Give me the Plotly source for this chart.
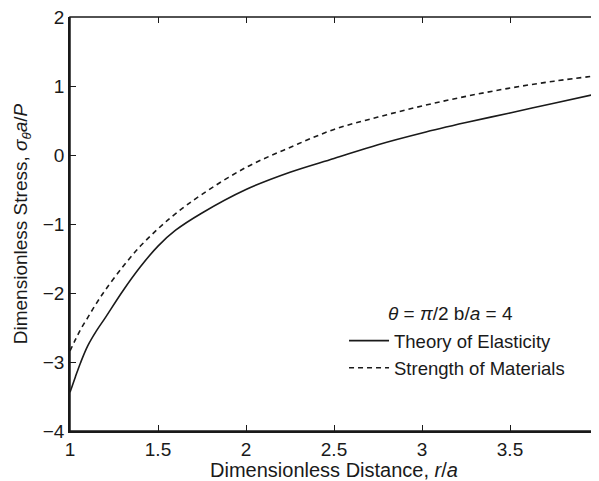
import plotly.graph_objects as go

r_vals = [1.0, 1.03, 1.06, 1.1, 1.15, 1.2, 1.3, 1.4, 1.5, 1.6, 1.75, 2.0, 2.25, 2.5, 2.75, 3.0, 3.25, 3.5, 3.75, 4.0]
elasticity = [-3.44, -3.22, -3.01, -2.77, -2.55, -2.36, -1.97, -1.62, -1.32, -1.09, -0.84, -0.50, -0.25, -0.05, 0.15, 0.32, 0.47, 0.61, 0.75, 0.89]
strength = [-2.84, -2.68, -2.53, -2.36, -2.15, -1.96, -1.62, -1.32, -1.07, -0.85, -0.57, -0.18, 0.11, 0.37, 0.55, 0.71, 0.85, 0.97, 1.07, 1.15]

x_ticks = [1, 1.5, 2, 2.5, 3, 3.5, 4]
x_tick_labels = ["1", "1.5", "2", "2.5", "3", "3.5", "4"]
y_ticks = [-4, -3, -2, -1, 0, 1, 2]
y_tick_labels = ["\u22124", "\u22123", "\u22122", "\u22121", "0", "1", "2"]

FONT = "Liberation Sans, Arial, sans-serif"
INK = "#1a1a1a"
X_RANGE = [1, 4]
Y_RANGE = [-4, 2]

fig = go.Figure()
fig.add_trace(go.Scatter(x=r_vals, y=elasticity, mode="lines", name="Theory of Elasticity",
                         line=dict(color=INK, width=1.6, shape="spline", smoothing=1.0)))
fig.add_trace(go.Scatter(x=r_vals, y=strength, mode="lines", name="Strength of Materials",
                         line=dict(color=INK, width=1.6, dash="5px,4px", shape="spline", smoothing=1.0)))
# invisible carriers so the tick-only overlay axes get drawn
for xa, ya in (("x2", "y2"), ("x3", "y3")):
    fig.add_trace(go.Scatter(x=r_vals, y=strength, xaxis=xa, yaxis=ya, mode="lines",
                             line=dict(width=0), opacity=0, showlegend=False, hoverinfo="skip"))

main_axis = dict(showgrid=False, zeroline=False, showline=True, linecolor=INK, linewidth=1.5,
                 mirror=False, ticks="inside", ticklen=6, tickwidth=1.3, tickcolor=INK,
                 automargin=False, ticklabeloverflow="allow",
                 tickfont=dict(family=FONT, size=19, color=INK))

tick_only = dict(showgrid=False, zeroline=False, showline=False, showticklabels=False,
                 ticks="inside", ticklen=6, tickwidth=1.3, tickcolor=INK, automargin=False)

# plot frame
fig.add_shape(type="rect", xref="paper", yref="paper", x0=0, x1=1, y0=0, y1=1,
              line=dict(color=INK, width=1.5), layer="above")

fig.add_annotation(x=0.72, y=0.285, xref="paper", yref="paper", showarrow=False,
                   xanchor="center", yanchor="middle",
                   text="<i>θ</i> = <i>π</i>/2 b/<i>a</i> = 4",
                   font=dict(family=FONT, size=19, color=INK))

# page body has an 8px margin; the figure is sized so the plot lands where the reference has it
fig.update_layout(
    width=591, height=473,
    margin=dict(l=62, r=1, t=9, b=50),
    paper_bgcolor="white", plot_bgcolor="white",
    xaxis=dict(range=X_RANGE, tickvals=x_ticks, ticktext=x_tick_labels,
               title=dict(text="Dimensionless Distance, <i>r</i>/<i>a</i>", standoff=2,
                          font=dict(family=FONT, size=20, color=INK)),
               **main_axis),
    yaxis=dict(range=Y_RANGE, tickvals=y_ticks, ticktext=y_tick_labels,
               title=dict(text="Dimensionless Stress, <i>σ</i><sub><i>θ</i></sub><i>a</i>/<i>P</i>", standoff=10,
                          font=dict(family=FONT, size=19, color=INK)),
               **main_axis),
    xaxis2=dict(overlaying="x", side="top", anchor="y2", range=X_RANGE, tickvals=x_ticks, **tick_only),
    yaxis2=dict(overlaying="y", side="right", anchor="x2", range=Y_RANGE, tickvals=y_ticks, **tick_only),
    xaxis3=dict(overlaying="x", side="bottom", anchor="y3", range=X_RANGE, tickvals=x_ticks, **tick_only),
    yaxis3=dict(overlaying="y", side="left", anchor="x3", range=Y_RANGE, tickvals=y_ticks, **tick_only),
    showlegend=True,
    legend=dict(x=0.519, y=0.263, xanchor="left", yanchor="top", bgcolor="rgba(0,0,0,0)",
                borderwidth=0, itemwidth=40, font=dict(family=FONT, size=18.5, color=INK), tracegroupgap=0),
    font=dict(family=FONT, color=INK),
)

fig.write_html("out.html")
